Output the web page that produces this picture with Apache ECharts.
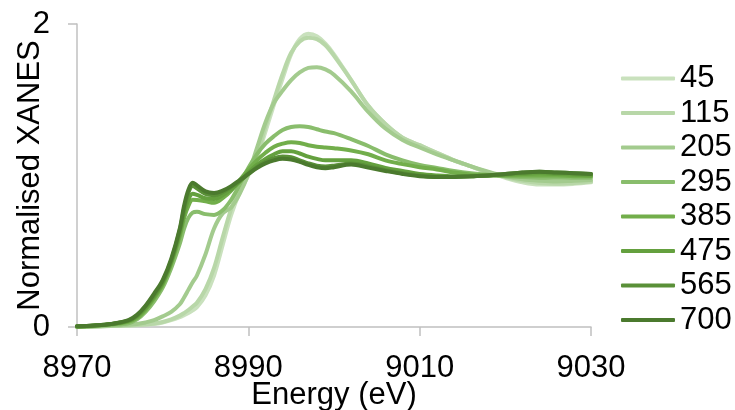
<!DOCTYPE html>
<html>
<head>
<meta charset="utf-8">
<script src="https://cdn.jsdelivr.net/npm/echarts@6/dist/echarts.min.js"></script>
<style>
html,body{margin:0;padding:0;background:#fff;}
#chart{width:735px;height:410px;}
</style>
</head>
<body>
<div id="chart"></div>
<script>
const energy = [8970,8972,8974,8976,8977,8978,8979,8980,8981,8982,8982.5,8983,8983.5,8984,8985,8986,8987,8988,8989,8990,8991,8992,8993,8994,8995,8996,8997,8998,8999,9000,9002,9004,9006,9008,9010,9012,9014,9016,9018,9020,9022,9024,9026,9028,9030];

const s45  = [0,0.003,0.006,0.01,0.012,0.016,0.02,0.03,0.045,0.065,0.078,0.092,0.11,0.13,0.21,0.34,0.54,0.74,0.89,1.0,1.12,1.29,1.47,1.64,1.80,1.90,1.935,1.92,1.87,1.80,1.63,1.46,1.34,1.25,1.20,1.15,1.10,1.06,1.02,0.985,0.955,0.94,0.94,0.945,0.955];
const s115 = [0,0.003,0.006,0.01,0.013,0.017,0.023,0.033,0.05,0.075,0.092,0.112,0.135,0.16,0.25,0.39,0.59,0.78,0.92,1.02,1.14,1.32,1.50,1.67,1.81,1.885,1.91,1.90,1.86,1.79,1.63,1.46,1.34,1.25,1.20,1.15,1.10,1.06,1.02,0.99,0.965,0.95,0.945,0.95,0.96];
const s205 = [0,0.004,0.008,0.015,0.02,0.03,0.045,0.07,0.10,0.15,0.195,0.245,0.295,0.34,0.48,0.65,0.75,0.79,0.88,1.01,1.18,1.35,1.48,1.56,1.63,1.68,1.71,1.715,1.70,1.665,1.555,1.42,1.31,1.235,1.185,1.14,1.10,1.06,1.025,0.995,0.975,0.965,0.96,0.965,0.97];
const s295 = [0.003,0.007,0.014,0.025,0.05,0.10,0.17,0.26,0.39,0.55,0.65,0.72,0.755,0.76,0.745,0.74,0.77,0.84,0.94,1.05,1.14,1.21,1.26,1.30,1.32,1.325,1.32,1.305,1.29,1.28,1.24,1.195,1.14,1.10,1.07,1.05,1.03,1.015,1.005,0.995,0.99,0.985,0.985,0.985,0.985];
const s385 = [0.004,0.009,0.018,0.035,0.06,0.115,0.19,0.28,0.42,0.60,0.72,0.80,0.84,0.838,0.83,0.82,0.85,0.90,0.97,1.04,1.10,1.15,1.19,1.21,1.22,1.215,1.20,1.19,1.185,1.18,1.165,1.14,1.10,1.075,1.055,1.04,1.02,1.005,1.0,1.0,1.0,1.0,1.0,0.995,0.995];
const s475 = [0.004,0.01,0.02,0.04,0.07,0.125,0.20,0.29,0.43,0.62,0.75,0.84,0.88,0.872,0.85,0.845,0.87,0.91,0.96,1.02,1.07,1.11,1.14,1.16,1.16,1.145,1.125,1.11,1.10,1.10,1.10,1.08,1.05,1.03,1.01,1.0,0.995,0.995,1.0,1.005,1.01,1.015,1.01,1.005,1.0];
const s565 = [0.005,0.01,0.02,0.042,0.075,0.135,0.21,0.30,0.44,0.64,0.78,0.885,0.93,0.915,0.878,0.87,0.89,0.925,0.965,1.01,1.055,1.09,1.115,1.125,1.12,1.10,1.08,1.065,1.06,1.065,1.08,1.06,1.035,1.015,1.0,0.99,0.99,0.995,1.0,1.01,1.02,1.025,1.02,1.015,1.01];
const s700 = [0.005,0.01,0.02,0.045,0.08,0.14,0.22,0.31,0.45,0.65,0.80,0.905,0.952,0.935,0.895,0.885,0.90,0.93,0.97,1.01,1.05,1.08,1.10,1.11,1.105,1.09,1.07,1.055,1.048,1.055,1.072,1.052,1.03,1.01,0.995,0.99,0.99,0.995,1.0,1.01,1.02,1.025,1.02,1.015,1.01];

const seriesNames = ['45','115','205','295','385','475','565','700'];
const seriesValues = [s45,s115,s205,s295,s385,s475,s565,s700];
const seriesColors = ['#c9e1bd','#b8d7a8','#a3cb8e','#89bd6c','#72ae4b','#64a03e','#5a9038','#4b7a2e'];

const xTickMin = 8970, xTickMax = 9030, xTickStep = 20;
const yTickMin = 0, yTickMax = 2, yTickStep = 2;

const FONT = '"Liberation Sans", Arial, sans-serif';

const chart = echarts.init(document.getElementById('chart'), null, {renderer:'canvas'});
chart.setOption({
  animation: false,
  backgroundColor: '#ffffff',
  textStyle: {fontFamily: FONT},
  grid: {left: 77, right: 144, top: 24, bottom: 83, containLabel: false, outerBoundsMode: 'none'},
  legend: {
    orient: 'vertical',
    left: 621,
    top: 63,
    padding: 0,
    itemWidth: 54,
    itemHeight: 4,
    itemGap: 3.5,
    icon: 'roundRect',
    data: seriesNames,
    textStyle: {fontSize: 31, color: '#000', fontFamily: FONT}
  },
  xAxis: {
    type: 'value',
    min: xTickMin, max: xTickMax, interval: xTickStep,
    name: 'Energy (eV)',
    nameLocation: 'middle',
    nameGap: 53,
    nameMoveOverlap: false,
    nameTextStyle: {fontSize: 31, color: '#000', fontFamily: FONT},
    axisLine: {show: true, lineStyle: {color: '#c0c0c0', width: 1.5}},
    axisTick: {show: true, length: 9, lineStyle: {color: '#c0c0c0', width: 1.5}},
    axisLabel: {fontSize: 31, color: '#000', margin: 26, fontFamily: FONT, formatter: v => String(v)},
    splitLine: {show: false}
  },
  yAxis: {
    type: 'value',
    min: yTickMin, max: yTickMax, interval: yTickStep,
    name: 'Normalised XANES',
    nameLocation: 'middle',
    nameGap: 31,
    nameMoveOverlap: false,
    nameTextStyle: {fontSize: 31, color: '#000', fontFamily: FONT},
    axisLine: {show: true, lineStyle: {color: '#c0c0c0', width: 1.5}},
    axisTick: {show: true, length: 9, lineStyle: {color: '#c0c0c0', width: 1.5}},
    axisLabel: {fontSize: 31, color: '#000', margin: 27, fontFamily: FONT, formatter: v => String(v)},
    splitLine: {show: false}
  },
  series: seriesNames.map((n, i) => ({
    name: n,
    type: 'line',
    smooth: 0.35,
    showSymbol: false,
    symbol: 'none',
    data: energy.map((e, k) => [e, seriesValues[i][k]]),
    lineStyle: {width: 4, color: seriesColors[i], cap: 'round', join: 'round'},
    itemStyle: {color: seriesColors[i]},
    z: 2 + i
  }))
});
</script>
</body>
</html>
